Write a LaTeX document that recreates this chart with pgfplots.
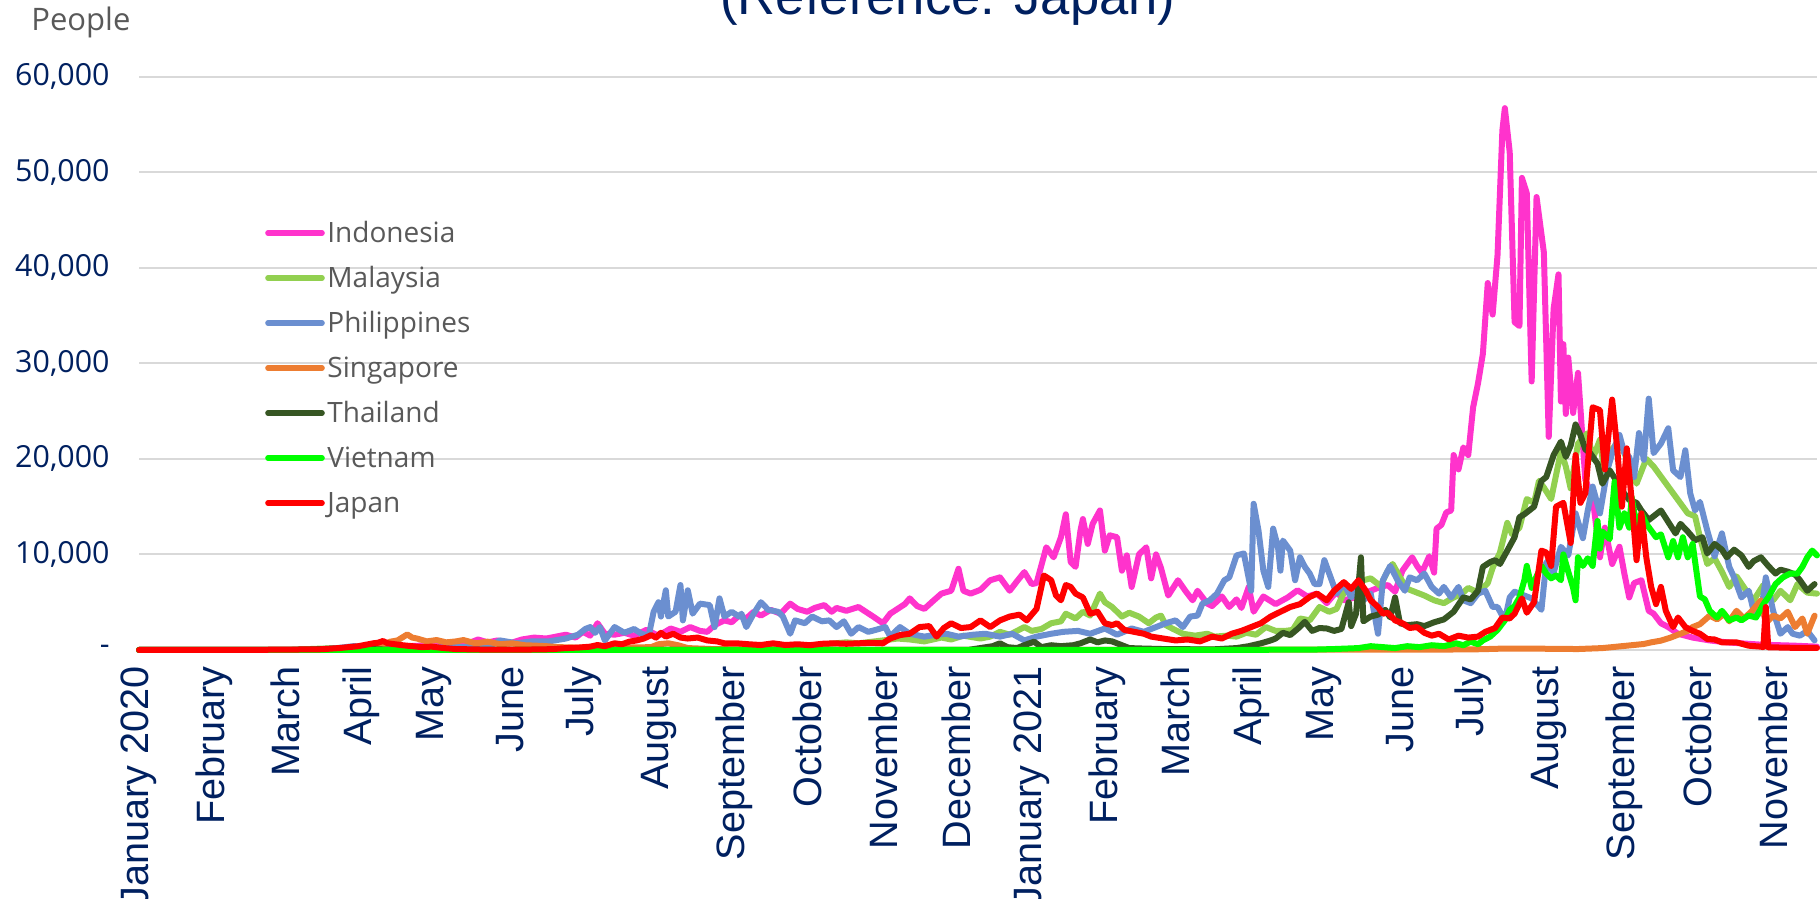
\documentclass[border=0pt]{standalone}
\usepackage{fontspec}
\setmainfont{Liberation Sans}
\newfontfamily\osans{Open Sans}
\usepackage{pgfplots}
\pgfplotsset{compat=1.18}

\definecolor{cIDN}{HTML}{FF33CC}
\definecolor{cMYS}{HTML}{92D050}
\definecolor{cPHL}{HTML}{6B8FD0}
\definecolor{cSGP}{HTML}{ED7D31}
\definecolor{cTHA}{HTML}{375623}
\definecolor{cVNM}{HTML}{00FF00}
\definecolor{cJPN}{HTML}{FF0000}
\definecolor{navy}{HTML}{002060}
\definecolor{txtgray}{HTML}{595959}
\definecolor{gridgray}{HTML}{D9D9D9}

\begin{document}
\begin{tikzpicture}
\useasboundingbox (0,0) rectangle (910pt,449.5pt);
\begin{axis}[
  at={(69.5pt,124.5pt)}, anchor=south west,
  scale only axis, width=839pt, height=286.7pt,
  xmin=0, xmax=688, ymin=0, ymax=60000,
  clip=false,
  axis line style={draw=none},
  major tick length=0pt,
  ymajorgrids, grid style={color=gridgray, line width=1pt},
  scaled y ticks=false,
  ytick={0,10000,20000,30000,40000,50000,60000},
  yticklabels={{-\hspace{8pt}},{10,000},{20,000},{30,000},{40,000},{50,000},{60,000}},
  yticklabel style={font=\osans\fontsize{15.2}{16}\selectfont, text=navy, anchor=east, inner sep=0pt, xshift=-14.5pt},
  xtick={0,31,60,91,121,152,182,213,244,274,305,335,366,397,425,456,486,517,547,578,609,639,670},
  xticklabels={January 2020,February,March,April,May,June,July,August,September,October,November,December,January 2021,February,March,April,May,June,July,August,September,October,November},
  xticklabel style={font=\fontsize{19.8}{20}\selectfont, text=navy, inner sep=0pt, yshift=-8pt, rotate=90, anchor=east},
  every axis plot/.append style={line width=3pt, line join=round, line cap=round, mark=none},
]
% Indonesia
\addplot[cIDN] coordinates {(0,0) (61,0) (65,50) (75,100) (85,130) (95,250) (105,350) (110,400) (115,450) (120,400) (125,500) (130,600) (135,700) (139,1100) (143,800) (147,1000) (152,700) (157,1100) (162,1300) (167,1200) (171,1400) (175,1600) (179,1300) (182,1900) (185,1500) (188,2800) (191,1700) (195,1600) (199,1800) (203,1500) (208,2100) (213,1500) (218,2250) (222,1900) (226,2400) (230,2000) (233,1900) (236,2600) (240,3100) (243,2900) (246,3600) (249,3300) (252,4000) (255,3600) (259,4200) (263,3800) (267,4850) (270,4300) (274,4000) (277,4400) (281,4700) (284,4000) (286,4400) (290,4100) (295,4500) (298,4000) (301,3500) (305,2800) (308,3800) (311,4300) (314,4800) (316,5400) (319,4600) (322,4300) (325,5000) (329,5900) (333,6200) (336,8500) (338,6200) (341,5900) (345,6300) (349,7300) (353,7600) (357,6200) (360,7200) (363,8150) (366,6900) (368,7000) (372,10750) (375,9700) (378,11800) (380,14200) (382,9200) (384,8700) (386,12500) (387,13700) (389,11100) (391,13200) (394,14600) (396,10400) (398,12000) (401,11800) (403,8300) (405,9900) (407,6600) (410,10000) (413,10750) (415,7500) (417,10000) (419,8600) (422,5700) (426,7300) (429,6200) (432,5200) (434,6200) (438,4850) (440,4600) (444,5600) (447,4500) (450,5300) (452,4400) (455,6600) (457,4000) (461,5600) (466,4800) (471,5500) (475,6250) (479,5600) (483,5900) (487,4900) (491,6100) (494,5200) (500,5600) (504,6100) (508,6500) (512,6800) (515,6100) (518,8300) (522,9700) (524,8800) (526,8100) (529,9800) (531,8100) (532,12700) (534,13100) (536,14400) (538,14600) (539,20400) (541,18900) (543,21200) (545,20400) (547,25400) (549,27900) (551,31000) (553,38400) (555,35100) (557,41300) (559,54400) (560,56700) (562,52100) (564,34300) (566,33900) (567,49400) (569,47800) (571,28100) (573,47400) (576,41600) (578,22300) (580,35700) (582,39300) (583,26000) (584,32000) (585,24700) (586,30600) (588,24800) (590,29000) (593,17800) (596,16000) (599,9700) (601,12800) (604,9000) (607,10800) (609,8000) (611,5500) (613,7000) (616,7300) (619,4100) (621,3800) (624,2800) (627,2400) (631,1700) (637,1300) (644,1000) (651,800) (665,560) (679,450) (688,350)};
% Malaysia
\addplot[cMYS] coordinates {(0,0) (60,0) (75,150) (85,200) (95,150) (105,70) (120,50) (150,20) (180,10) (240,20) (260,100) (274,300) (281,600) (290,800) (295,700) (305,1000) (311,1200) (316,1100) (322,900) (329,1300) (333,1100) (338,1500) (345,1200) (349,1400) (353,1900) (357,1600) (363,2400) (366,2000) (370,2200) (374,2800) (378,3000) (380,3800) (384,3300) (387,4000) (390,3600) (394,5900) (396,5000) (399,4500) (403,3500) (406,3900) (410,3500) (414,2800) (417,3400) (419,3600) (421,2600) (424,2200) (428,1700) (433,1500) (438,1700) (441,1400) (446,1500) (450,1400) (454,1800) (458,1600) (462,2400) (466,2000) (470,2000) (473,2100) (476,3300) (480,3100) (484,4500) (488,4000) (491,4300) (494,6000) (497,6200) (500,6800) (502,7300) (505,7500) (509,6700) (512,8300) (514,9000) (517,7600) (520,6400) (524,6000) (527,5700) (531,5200) (535,4900) (539,5500) (542,5800) (545,6500) (549,6000) (553,7000) (555,8600) (558,10200) (561,13300) (563,12100) (566,12800) (569,15800) (572,15400) (574,17700) (576,17000) (579,15800) (583,20800) (585,19200) (587,16900) (590,21600) (594,22700) (596,20000) (599,22000) (601,18100) (604,21000) (607,22000) (609,20600) (614,17400) (618,20000) (621,19200) (627,17100) (631,15700) (635,14300) (638,14000) (640,11800) (643,9000) (646,9600) (649,8200) (652,6600) (655,7700) (659,6200) (662,5200) (666,6800) (670,5200) (673,6200) (677,5200) (680,6900) (684,6000) (688,5900)};
% Philippines
\addplot[cPHL] coordinates {(0,0) (60,0) (75,20) (88,400) (95,300) (105,250) (115,200) (125,280) (135,300) (145,600) (148,1000) (155,700) (161,900) (168,900) (175,1200) (180,1600) (183,2200) (185,2400) (187,1800) (189,2400) (191,1000) (195,2400) (199,1800) (203,2200) (206,1700) (209,1500) (211,4000) (213,5000) (214,3500) (216,6250) (217,3500) (220,4000) (222,6800) (223,3100) (225,6250) (227,3800) (230,4850) (234,4700) (236,2400) (238,5400) (240,3500) (243,4000) (246,3500) (247,3800) (249,2400) (252,3800) (255,5000) (258,4200) (262,4000) (264,3500) (267,1700) (269,3100) (273,2800) (276,3500) (280,3000) (283,3100) (286,2400) (289,3000) (292,1700) (295,2400) (299,1900) (302,2100) (306,2400) (308,1400) (312,2400) (316,1700) (322,1400) (327,1600) (331,1700) (336,1400) (342,1600) (347,1700) (353,1400) (358,1700) (363,1000) (368,1400) (374,1700) (379,1900) (385,2000) (390,1700) (396,2250) (401,1600) (407,2250) (412,1900) (417,2400) (421,2800) (425,3100) (428,2400) (431,3500) (434,3600) (436,4850) (439,5200) (442,5900) (445,7300) (447,7600) (450,9900) (453,10100) (456,6200) (457,15300) (459,12500) (461,8300) (463,6600) (465,12700) (467,10750) (468,8300) (469,11450) (472,10400) (474,7300) (476,9700) (478,8700) (480,8000) (482,6900) (484,6900) (486,9400) (489,7300) (491,5900) (494,6900) (497,5500) (499,6200) (502,5200) (505,5900) (508,1700) (510,7300) (513,8800) (516,7300) (519,6200) (521,7600) (524,7300) (527,8000) (530,6600) (533,5900) (535,6600) (538,5500) (541,6600) (543,5200) (546,4900) (549,5900) (552,6200) (555,4500) (557,4500) (560,3100) (562,5500) (564,6100) (567,5800) (571,5400) (575,4200) (577,9200) (580,8100) (583,10800) (586,9900) (589,14300) (592,11700) (594,14600) (596,17100) (599,14300) (602,18800) (604,20600) (607,22500) (609,20600) (611,20200) (613,18100) (615,22700) (617,19900) (619,26300) (621,20600) (624,21600) (627,23200) (629,18800) (632,18100) (634,20900) (636,16400) (638,14600) (640,15500) (643,12500) (646,9800) (649,12200) (652,8700) (654,7600) (657,5500) (660,6200) (662,4100) (665,3800) (667,7600) (670,4100) (673,1700) (676,2400) (678,1700) (681,1500) (684,2000) (687,1000)};
% Singapore
\addplot[cSGP] coordinates {(0,0) (60,0) (75,20) (85,50) (95,150) (100,500) (103,870) (106,1000) (110,1630) (112,1300) (114,1200) (118,900) (122,1040) (126,800) (130,900) (133,1040) (138,700) (143,870) (148,600) (153,700) (158,500) (163,450) (167,400) (172,300) (180,250) (190,300) (200,250) (210,300) (213,600) (217,700) (221,500) (225,200) (235,100) (250,50) (270,20) (300,10) (400,20) (450,30) (500,30) (530,30) (550,80) (560,150) (570,150) (580,120) (590,100) (600,200) (606,350) (612,500) (617,630) (620,800) (624,980) (628,1300) (632,1700) (635,2000) (637,2400) (640,2700) (644,3600) (647,3200) (650,3800) (652,3000) (655,4100) (658,3300) (661,4000) (665,5200) (667,2800) (670,3600) (673,3300) (676,4000) (679,2400) (682,3300) (684,1700) (687,3600)};
% Thailand
\addplot[cTHA] coordinates {(0,0) (60,0) (70,50) (80,150) (85,180) (90,120) (95,100) (100,50) (110,20) (130,5) (200,5) (340,10) (350,400) (353,700) (356,300) (360,200) (364,600) (367,870) (370,300) (374,500) (378,400) (383,500) (386,700) (390,1100) (393,800) (396,1000) (399,900) (403,500) (406,200) (412,150) (420,100) (430,80) (440,60) (450,200) (455,400) (460,700) (464,1000) (466,1200) (469,1800) (472,1560) (475,2200) (478,2950) (481,2000) (484,2300) (487,2250) (490,2000) (493,2200) (496,5000) (497,2500) (499,3800) (501,9700) (502,3000) (505,3500) (508,3700) (511,4200) (513,3400) (515,5500) (517,2800) (520,2600) (524,2700) (527,2500) (531,2900) (535,3200) (539,4000) (543,5500) (546,5300) (549,6200) (551,8700) (554,9200) (556,9400) (558,9000) (561,10400) (564,11800) (566,13900) (568,14200) (570,14600) (572,15000) (575,17700) (577,18100) (580,20400) (583,21800) (585,20200) (587,21400) (589,23600) (591,22500) (593,21000) (595,20600) (598,19500) (600,17400) (603,18800) (605,18000) (608,16700) (611,15700) (614,15400) (616,14600) (619,13600) (622,14200) (624,14600) (627,13400) (630,12200) (632,13200) (635,12400) (638,11500) (641,11800) (643,10100) (646,11100) (649,10500) (651,9700) (654,10500) (657,9900) (660,8700) (662,9300) (665,9700) (668,8800) (671,8000) (673,8400) (676,8200) (679,7900) (681,7300) (684,6200) (687,6900)};
% Vietnam
\addplot[cVNM] coordinates {(0,0) (20,0) (60,5) (90,10) (120,0) (200,10) (300,5) (400,10) (480,30) (490,100) (500,200) (505,400) (510,300) (515,200) (520,400) (525,300) (530,500) (535,400) (540,700) (543,500) (546,870) (549,600) (551,1000) (554,1400) (557,2100) (560,3100) (562,4200) (564,4600) (566,5500) (568,7300) (569,8800) (571,6500) (573,7700) (575,8800) (577,8000) (579,7500) (581,7800) (583,7300) (584,10000) (586,8200) (588,6500) (589,5200) (590,9700) (592,8800) (594,9600) (596,8800) (598,13500) (599,10600) (600,12400) (603,11600) (605,17600) (607,12800) (609,14300) (611,12800) (612,16000) (614,13000) (616,14300) (618,13200) (620,12500) (622,11800) (624,12100) (627,9700) (629,11400) (631,9700) (633,11800) (635,9700) (637,11100) (640,5600) (642,5300) (644,4100) (647,3400) (649,4100) (652,3100) (655,3400) (657,3100) (660,3600) (663,3400) (666,4800) (668,5500) (671,6900) (674,7600) (677,8000) (680,8000) (682,8700) (684,9700) (686,10400) (688,9900)};
% Japan
\addplot[cJPN] coordinates {(0,0) (15,0) (30,2) (45,10) (55,30) (65,50) (75,80) (82,200) (86,300) (90,400) (93,550) (96,700) (98,760) (100,940) (102,700) (105,600) (108,500) (112,400) (116,300) (120,350) (125,200) (130,100) (140,50) (150,40) (160,50) (165,60) (170,100) (175,200) (180,250) (185,350) (188,520) (191,400) (195,700) (198,600) (201,870) (204,1000) (207,1200) (210,1560) (212,1300) (214,1800) (216,1400) (219,1700) (222,1300) (225,1200) (229,1300) (233,1000) (237,900) (240,700) (245,700) (250,600) (255,520) (260,700) (265,520) (270,600) (275,500) (280,650) (285,700) (290,650) (295,700) (300,750) (305,700) (308,1200) (312,1560) (316,1700) (320,2400) (324,2500) (327,1400) (330,2300) (333,2800) (337,2300) (341,2400) (345,3100) (349,2400) (353,3100) (357,3500) (361,3700) (364,3100) (368,4300) (371,7800) (374,7300) (376,5700) (378,5200) (380,6800) (382,6600) (384,5900) (387,5500) (390,3800) (393,4000) (396,2800) (399,2600) (401,2800) (404,2100) (408,1900) (412,1700) (415,1400) (420,1200) (425,1000) (430,1100) (435,900) (440,1400) (444,1200) (448,1700) (452,2000) (456,2400) (460,2800) (464,3500) (468,4000) (472,4500) (476,4800) (480,5550) (483,5900) (487,5200) (490,6200) (494,7100) (497,6400) (500,7300) (503,6200) (505,5200) (508,4500) (510,3800) (512,3900) (515,3100) (518,2800) (521,2300) (524,2400) (527,1800) (530,1500) (533,1700) (537,1100) (541,1500) (545,1300) (549,1400) (552,1900) (556,2300) (559,3400) (562,3300) (564,3800) (567,5400) (569,3900) (572,5000) (575,10400) (577,10200) (579,8800) (581,15000) (584,15400) (587,11200) (589,20400) (591,15400) (593,16400) (596,25400) (599,25100) (601,18900) (604,26200) (606,21300) (608,15000) (610,21100) (612,15700) (614,9400) (616,14300) (618,9700) (620,6600) (622,4800) (624,6600) (626,4100) (629,2400) (631,3400) (634,2400) (637,2000) (640,1700) (643,1150) (646,1100) (649,800) (655,800) (660,450) (665,350) (666,300) (667,4500) (668,280) (675,250) (680,210) (688,210)};
\end{axis}

% unit label and title
\node[anchor=base west, inner sep=0pt, text=txtgray, font=\osans\fontsize{15.5}{16}\selectfont] at (15.5pt,434pt) {People};
\node[anchor=base, inner sep=0pt, text=navy, font=\fontsize{26.3}{28}\selectfont] at (474pt,442pt) {(Reference: Japan)};

% legend
\foreach \name/\col [count=\i from 0] in {Indonesia/cIDN, Malaysia/cMYS, Philippines/cPHL, Singapore/cSGP, Thailand/cTHA, Vietnam/cVNM, Japan/cJPN}{
  \pgfmathsetmacro{\yy}{333-22.5*\i}
  \draw[\col, line width=2.8pt, line cap=round] (134pt,\yy pt) -- (161pt,\yy pt);
  \node[anchor=base west, inner sep=0pt, text=txtgray, font=\osans\fontsize{14}{15}\selectfont] at (163.5pt,\yy pt-5pt) {\name};
}
\end{tikzpicture}
\end{document}
